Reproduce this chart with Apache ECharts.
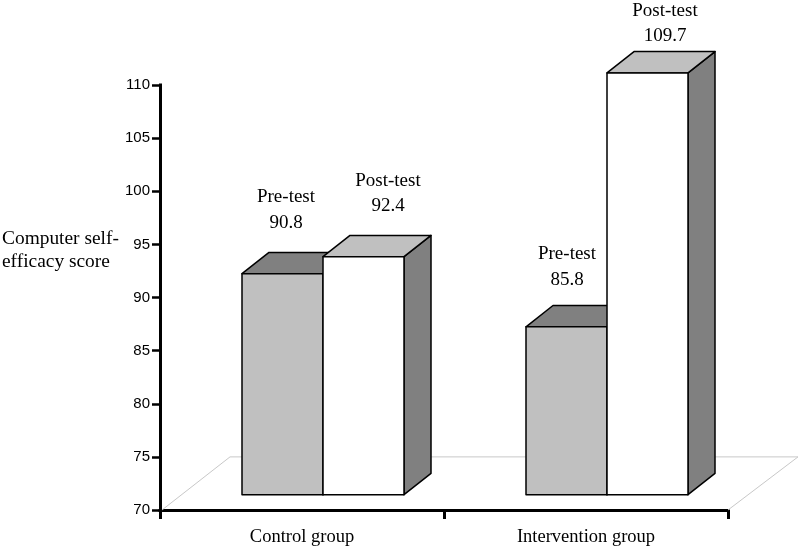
<!DOCTYPE html>
<html>
<head>
<meta charset="utf-8">
<style>html,body{margin:0;padding:0;background:#fff}#chart{width:800px;height:549px}</style>
<script src="https://cdn.jsdelivr.net/npm/echarts@6/dist/echarts.min.js"></script>
</head>
<body>
<div id="chart"></div>
<script>
const categories = ['Control group', 'Intervention group'];
const preTest = [90.8, 85.8];
const postTest = [92.4, 109.7];
const yTicks = { min: 70, max: 110, interval: 5 };
const yTitle = 'Computer self-\nefficacy score';

const SERIF = '"Liberation Serif","Times New Roman",serif';
const SANS = '"Liberation Sans",Arial,sans-serif';
const BAR_W = 81, DEPTH_X = 27, DEPTH_Y = 21.3, LIFT = 15.3;

function barItem(opts) {
  return function (params, api) {
    const cat = api.value(0), val = api.value(1);
    const top = api.coord([cat, val]);
    const base = api.coord([cat, yTicks.min]);
    const xc = top[0];
    const x0 = xc + opts.shift, x1 = x0 + BAR_W;
    const yt = top[1] - LIFT, yb = base[1] - LIFT;
    const line = { stroke: '#000', lineWidth: 1.5, lineJoin: 'round' };
    const nudge = opts.labelAt[cat];
    return {
      type: 'group',
      children: [
        { type: 'polygon', shape: { points: [[x1, yt], [x1 + DEPTH_X, yt - DEPTH_Y], [x1 + DEPTH_X, yb - DEPTH_Y], [x1, yb]] },
          style: Object.assign({ fill: '#808080' }, line) },
        { type: 'polygon', shape: { points: [[x0, yt], [x0 + DEPTH_X, yt - DEPTH_Y], [x1 + DEPTH_X, yt - DEPTH_Y], [x1, yt]] },
          style: Object.assign({ fill: opts.topColor }, line) },
        { type: 'rect', shape: { x: x0, y: yt, width: BAR_W, height: yb - yt },
          style: Object.assign({ fill: opts.frontColor }, line) },
        { type: 'text', x: xc + nudge[0], y: yt + nudge[1],
          style: { text: opts.name + '\n' + val.toFixed(1), fill: '#000', align: 'center', verticalAlign: 'middle',
                   font: '19px ' + SERIF, lineHeight: 25.5 } }
      ]
    };
  };
}

function floorItem(params, api) {
  const cs = params.coordSys;
  const yBack = api.coord([0, 75])[1], yFront = api.coord([0, 70])[1];
  const left = cs.x, right = cs.x + cs.width;
  return {
    type: 'polyline',
    shape: { points: [[left + 2, yFront], [left + 70, yBack], [right + 70, yBack], [right, yFront]] },
    style: { stroke: '#c8c8c8', lineWidth: 1, fill: null }
  };
}

const chart = echarts.init(document.getElementById('chart'), null, { renderer: 'canvas' });
chart.setOption({
  animation: false,
  backgroundColor: '#fff',
  title: {
    text: yTitle, left: 2, top: 227, padding: 0,
    textStyle: { fontFamily: SERIF, fontSize: 19.4, fontWeight: 'normal', color: '#000', lineHeight: 23 }
  },
  grid: { left: 160, right: 72, top: 85, bottom: 39 },
  xAxis: {
    type: 'category', data: categories, boundaryGap: true,
    axisLine: { show: true, onZero: false, lineStyle: { color: '#000', width: 3, cap: 'square' } },
    axisTick: { show: true, alignWithLabel: false, length: 9, lineStyle: { color: '#000', width: 3 } },
    axisLabel: { fontFamily: SERIF, fontSize: 18.5, color: '#000', margin: 18 },
    splitLine: { show: false }
  },
  yAxis: {
    type: 'value', min: yTicks.min, max: yTicks.max, interval: yTicks.interval,
    axisLine: { show: true, lineStyle: { color: '#000', width: 3, cap: 'square' } },
    axisTick: { show: true, length: 8, lineStyle: { color: '#000', width: 2.5 } },
    axisLabel: { fontFamily: SANS, fontSize: 15, color: '#000', margin: 10 },
    splitLine: { show: false }
  },
  series: [
    { type: 'custom', name: 'floor', data: [[0, 70]], renderItem: floorItem, silent: true, clip: false },
    { type: 'custom', name: 'Pre-test', clip: false,
      data: preTest.map((v, i) => [i, v]), encode: { x: 0, y: 1 },
      renderItem: barItem({ name: 'Pre-test', shift: 21 - BAR_W, frontColor: '#c0c0c0', topColor: '#808080',
        labelAt: [[-16, -63.5], [-19, -60]] }) },
    { type: 'custom', name: 'Post-test', clip: false,
      data: postTest.map((v, i) => [i, v]), encode: { x: 0, y: 1 },
      renderItem: barItem({ name: 'Post-test', shift: 21, frontColor: '#fff', topColor: '#c0c0c0',
        labelAt: [[86, -63], [79, -49.5]] }) }
  ]
});
</script>
</body>
</html>
